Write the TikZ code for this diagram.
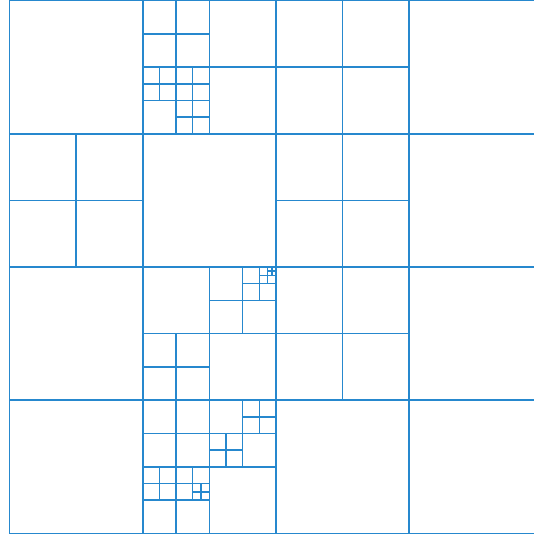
\documentclass[tikz,border=0pt]{standalone}
\usepackage{tikz}
\usepackage{xcolor}

\definecolor{qblue}{RGB}{38,136,206}

% split a square cell (lower left x, y and side) into four
\newcommand{\splitcell}[3]{%
  \draw[cell] (#1+#3/2,#2) -- ++(0,#3) (#1,#2+#3/2) -- ++(#3,0);}

\begin{document}
\begin{tikzpicture}[x=2cm, y=2cm, cell/.style={draw=qblue, line width=0.65pt}]
      \useasboundingbox (-0.0713,-0.0113) rectangle (3.9362,4.0038);
      \clip (-0.0713,-0.0113) rectangle (3.9362,4.0038);

      % Coarse grid
      \draw[cell] (0,0) rectangle (4,4);
      \foreach \i in {1,2,3}
        \draw[cell] (\i,0) -- (\i,4) (0,\i) -- (4,\i);

      % Level 1 splits
      \foreach \x/\y in {1/3, 2/3, 0/2, 2/2, 1/1, 2/1, 1/0}
        \splitcell{\x}{\y}{1};

      % Level 2 splits
      \foreach \x/\y in {1/3.5, 1/3, 1.5/1.5, 1/1, 1/0.5, 1.5/0.5, 1/0}
        \splitcell{\x}{\y}{0.5};

      % Level 3 splits
      \foreach \x/\y in {1/3.25, 1.25/3.25, 1.25/3, 1.75/1.75, 1.75/0.75, 1.5/0.5, 1/0.25, 1.25/0.25}
        \splitcell{\x}{\y}{0.25};

      % Finer splits
      \splitcell{1.875}{1.875}{0.125};
      \splitcell{1.375}{0.25}{0.125};
      \splitcell{1.9375}{1.9375}{0.0625};
    \end{tikzpicture}
\end{document}
